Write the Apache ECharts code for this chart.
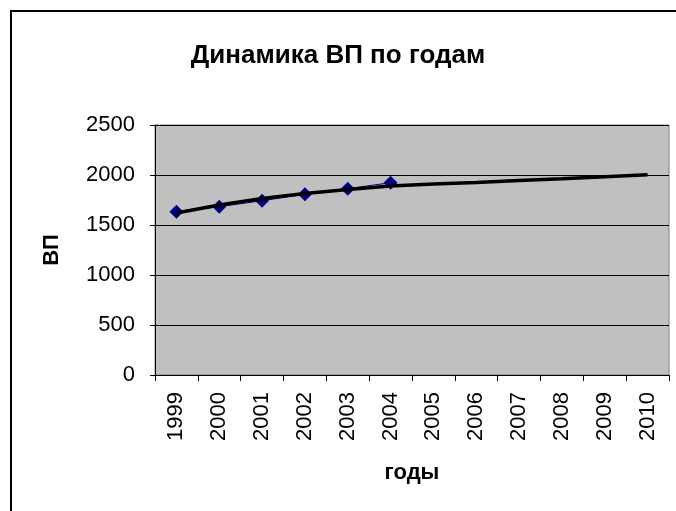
<!DOCTYPE html>
<html>
<head>
<meta charset="utf-8">
<script src="https://cdn.jsdelivr.net/npm/echarts@6/dist/echarts.min.js"></script>
<style>
html,body{margin:0;padding:0;background:#fff;}
#chart{width:676px;height:511px;}
</style>
</head>
<body>
<div id="chart"></div>
<script>
var years = ['1999','2000','2001','2002','2003','2004','2005','2006','2007','2008','2009','2010'];
var vpValues = [1633, 1683, 1743, 1807, 1863, 1923];
var trendValues = [1620, 1700, 1765, 1815, 1855, 1890, 1910, 1925, 1945, 1962, 1983, 2003];
var yTicks = {min: 0, max: 2500, step: 500};

var chart = echarts.init(document.getElementById('chart'), null, {renderer: 'canvas'});
var FONT = 'Liberation Sans, Arial, sans-serif';
chart.setOption({
  animation: false,
  backgroundColor: '#ffffff',
  title: {
    text: 'Динамика ВП по годам',
    left: 'center',
    top: 38,
    textStyle: {fontFamily: FONT, fontSize: 26, fontWeight: 'bold', color: '#000'}
  },
  graphic: [{
    type: 'rect',
    shape: {x: 11, y: 11, width: 700, height: 560},
    style: {fill: 'none', stroke: '#000', lineWidth: 2},
    silent: true
  }],
  grid: {
    left: 155, top: 125, right: 7, bottom: 136,
    show: true, backgroundColor: '#c0c0c0', borderColor: '#808080', borderWidth: 1
  },
  xAxis: {
    type: 'category',
    data: years,
    boundaryGap: true,
    name: 'годы',
    nameLocation: 'middle',
    nameGap: 87,
    nameTextStyle: {fontFamily: FONT, fontSize: 22, fontWeight: 'bold', color: '#000'},
    axisLine: {show: true, lineStyle: {color: '#000', width: 1}},
    axisTick: {show: true, alignWithLabel: false, length: 6, lineStyle: {color: '#000'}},
    axisLabel: {rotate: 90, margin: 17, fontFamily: FONT, fontSize: 22, color: '#000', interval: 0},
    splitLine: {show: false}
  },
  yAxis: {
    type: 'value',
    min: yTicks.min, max: yTicks.max, interval: yTicks.step,
    name: 'ВП',
    nameLocation: 'middle',
    nameRotate: 90,
    nameGap: 92,
    nameTextStyle: {fontFamily: FONT, fontSize: 22, fontWeight: 'bold', color: '#000'},
    axisLine: {show: true, lineStyle: {color: '#000', width: 1}},
    axisTick: {show: true, length: 5, inside: false, lineStyle: {color: '#000'}},
    axisLabel: {margin: 20, fontFamily: FONT, fontSize: 22, color: '#000', formatter: function (v) { return String(v); }},
    splitLine: {show: true, lineStyle: {color: '#000', width: 1}}
  },
  series: [
    {
      type: 'line',
      name: 'ВП',
      data: vpValues,
      symbol: 'diamond',
      symbolSize: 14,
      itemStyle: {color: '#000080'},
      lineStyle: {color: '#000080', width: 1},
      z: 3
    },
    {
      type: 'line',
      name: 'тренд',
      data: trendValues,
      symbol: 'none',
      lineStyle: {color: '#000', width: 3.5},
      z: 4
    }
  ]
});
</script>
</body>
</html>
